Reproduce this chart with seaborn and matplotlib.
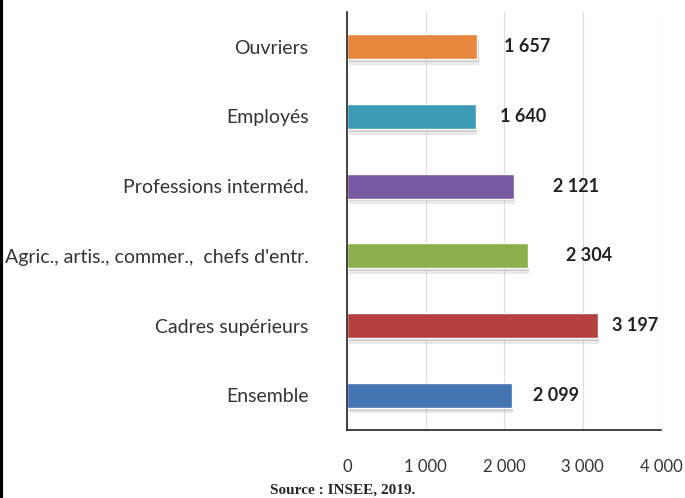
import pandas as pd
import matplotlib.pyplot as plt
import matplotlib.patheffects as pe
from matplotlib.lines import Line2D
from matplotlib.ticker import FixedLocator, FuncFormatter
import seaborn as sns

# -------------------------------
# DATA (top to bottom)
# -------------------------------
categories = ["Ouvriers", "Employés", "Professions interméd.",
              "Agric., artis., commer.,  chefs d'entr.",
              "Cadres supérieurs", "Ensemble"]
salaires = [1657, 1640, 2121, 2304, 3197, 2099]
couleurs = ["#E5873C", "#3C9BB7", "#7659A0", "#8BAF4C", "#B5413F", "#4373B0"]
value_labels = ["1 657", "1 640", "2 121", "2 304", "3 197", "2 099"]
x_ticks = [0, 1000, 2000, 3000, 4000]

# label nudges (points), as placed in the original chart
label_dx = [19, 17, 28, 27, 10, 15]

df = pd.DataFrame({"categorie": categories, "salaire": salaires})

sns.set_theme(style="white")
plt.rcParams["font.family"] = ["Lato", "DejaVu Sans"]

fig = plt.figure(figsize=(6.85, 4.98), dpi=100)
ax = fig.add_axes([0.507, 0.1365, 0.458, 0.8395])

sns.barplot(data=df, y="categorie", x="salaire", hue="categorie",
            palette=dict(zip(categories, couleurs)), orient="h",
            width=0.36, legend=False, ax=ax, saturation=1)

for bar in ax.patches:
    bar.set_path_effects([pe.SimplePatchShadow(offset=(1, -4), shadow_rgbFace="#aaaaaa", alpha=0.25),
                          pe.SimplePatchShadow(offset=(1, -2), shadow_rgbFace="#888888", alpha=0.25),
                          pe.Normal()])

# value labels
for i, (v, lab, dx) in enumerate(zip(salaires, value_labels, label_dx)):
    ax.annotate(lab, xy=(v, i), xytext=(dx, 0), textcoords="offset points",
                ha="left", va="center", fontsize=13, fontweight="bold", color="#222222")

# axes look
ax.set_xlim(0, 4000)
ax.set_ylim(5.5, -0.5)
ax.set_xlabel("")
ax.set_ylabel("")
ax.xaxis.set_major_locator(FixedLocator(x_ticks))
ax.xaxis.set_major_formatter(FuncFormatter(lambda v, p: f"{int(v):,}".replace(",", " ")))
ax.grid(axis="x", color="#dddddd", linewidth=0.8)
ax.set_axisbelow(True)
for s in ["top", "right"]:
    ax.spines[s].set_visible(False)
for s in ["left", "bottom"]:
    ax.spines[s].set_color("#222222")
    ax.spines[s].set_linewidth(1.2)

ax.tick_params(axis="x", direction="out", length=7, width=1.2, color="#222222",
               labelsize=12, labelcolor="#333333", pad=14)
ax.tick_params(axis="y", which="major", length=0, labelsize=14, labelcolor="#333333", pad=28)
ax.set_yticks([i - 0.5 for i in range(len(categories) + 1)], minor=True)
ax.tick_params(axis="y", which="minor", direction="out", length=6, width=1.2, color="#222222")

# source + left border
fig.text(0.5, 0.003, "Source : INSEE, 2019.", ha="center", va="bottom",
         fontsize=11, fontweight="bold", family="Liberation Serif")
fig.add_artist(Line2D([0.002, 0.002], [0, 1], color="black", linewidth=3,
                      transform=fig.transFigure))

plt.savefig("out.png", dpi=100)
